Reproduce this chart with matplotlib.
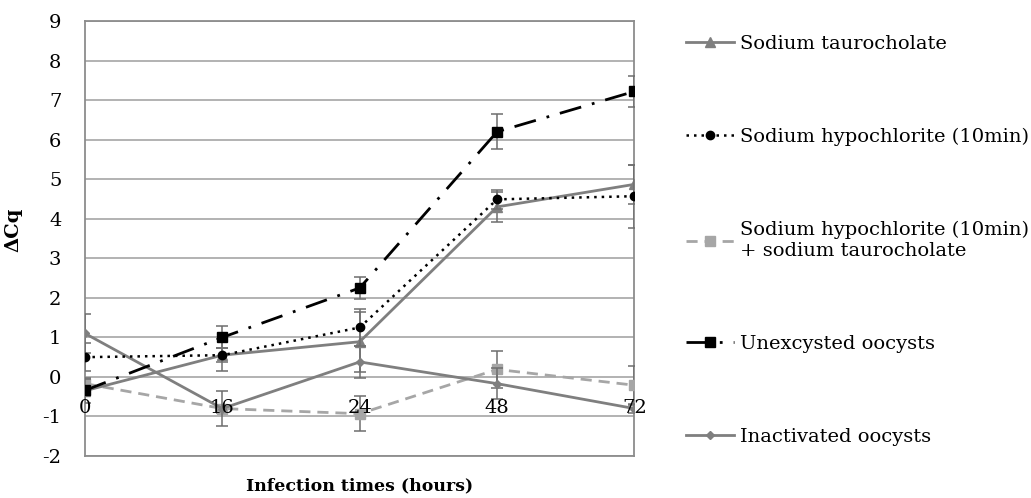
import matplotlib.pyplot as plt
import numpy as np

plt.rcParams['font.family'] = ['DejaVu Serif']
plt.rcParams['axes.unicode_minus'] = False

# Data
times = ['0', '16', '24', '48', '72']
taurocholate = [-0.35, 0.55, 0.89, 4.30, 4.87]
taurocholate_err = [0.30, 0.17, 0.76, 0.37, 0.50]
hypochlorite = [0.50, 0.55, 1.25, 4.49, 4.57]
hypochlorite_err = [0.35, 0.40, 0.46, 0.24, 0.80]
hypo_tauro = [-0.17, -0.80, -0.93, 0.19, -0.21]
hypo_tauro_err = [0.15, 0.10, 0.44, 0.47, 0.48]
unexcysted = [-0.34, 1.00, 2.25, 6.20, 7.22]
unexcysted_err = [0.10, 0.28, 0.27, 0.44, 0.40]
inactivated = [1.10, -0.80, 0.38, -0.17, -0.80]
inactivated_err = [0.50, 0.45, 0.40, 0.40, 0.10]

labels = ['Sodium taurocholate',
          'Sodium hypochlorite (10min)',
          'Sodium hypochlorite (10min)\n+ sodium taurocholate',
          'Unexcysted oocysts',
          'Inactivated oocysts']

fig = plt.figure(figsize=(10.31, 4.98), dpi=100)
ax = fig.add_axes([0.0824, 0.0843, 0.5330, 0.8735])

x = np.arange(len(times))
err_kw = dict(ecolor='#6e6e6e', elinewidth=1.1, capsize=4, capthick=1.1)

series = []
series.append(ax.errorbar(x, taurocholate, yerr=taurocholate_err, color='#7f7f7f', lw=2,
                          marker='^', ms=7, zorder=4, **err_kw))
series.append(ax.errorbar(x, hypochlorite, yerr=hypochlorite_err, color='black', lw=1.8,
                          linestyle=(0, (1, 2)), marker='o', ms=6, zorder=5, **err_kw))
series.append(ax.errorbar(x, hypo_tauro, yerr=hypo_tauro_err, color='#a6a6a6', lw=2,
                          linestyle=(0, (4, 2.5)), marker='s', ms=7, zorder=3, **err_kw))
series.append(ax.errorbar(x, unexcysted, yerr=unexcysted_err, color='black', lw=2,
                          linestyle=(0, (8, 4, 1, 4)), marker='s', ms=7, zorder=5, **err_kw))
series.append(ax.errorbar(x, inactivated, yerr=inactivated_err, color='#7f7f7f', lw=2,
                          marker='D', ms=4.5, zorder=4, **err_kw))

ax.set_xlim(0, len(times) - 1)
ax.set_ylim(-2, 9)
ax.set_yticks(np.arange(-2, 10, 1))
ax.yaxis.grid(True, color='#a6a6a6', lw=1.2)
ax.set_axisbelow(True)
ax.tick_params(axis='y', length=0, pad=17, labelsize=14)
ax.set_xticks([])
for s in ax.spines.values():
    s.set_color('#8c8c8c')
    s.set_linewidth(1.3)

# category labels sit just under the zero line, as in the source chart
for i, t in enumerate(times):
    ax.annotate(t, (i, 0), xytext=(0, -22.5), textcoords='offset points',
                ha='center', va='center', fontsize=14, zorder=6)

ax.set_ylabel('\u0394Cq', fontsize=14, fontweight='bold')
ax.yaxis.set_label_coords(-0.113, 0.52)
ax.set_xlabel('Infection times (hours)', fontsize=12.5, fontweight='bold')
ax.xaxis.set_label_coords(0.5, -0.048)

handles = [s.lines[0] for s in series]
leg = fig.legend(handles, labels, loc='upper left', bbox_to_anchor=(0.648, 0.965),
                 frameon=False, fontsize=14, handlelength=2.5, handletextpad=0.3,
                 labelspacing=3.85)

fig.savefig('out.png', dpi=100)
